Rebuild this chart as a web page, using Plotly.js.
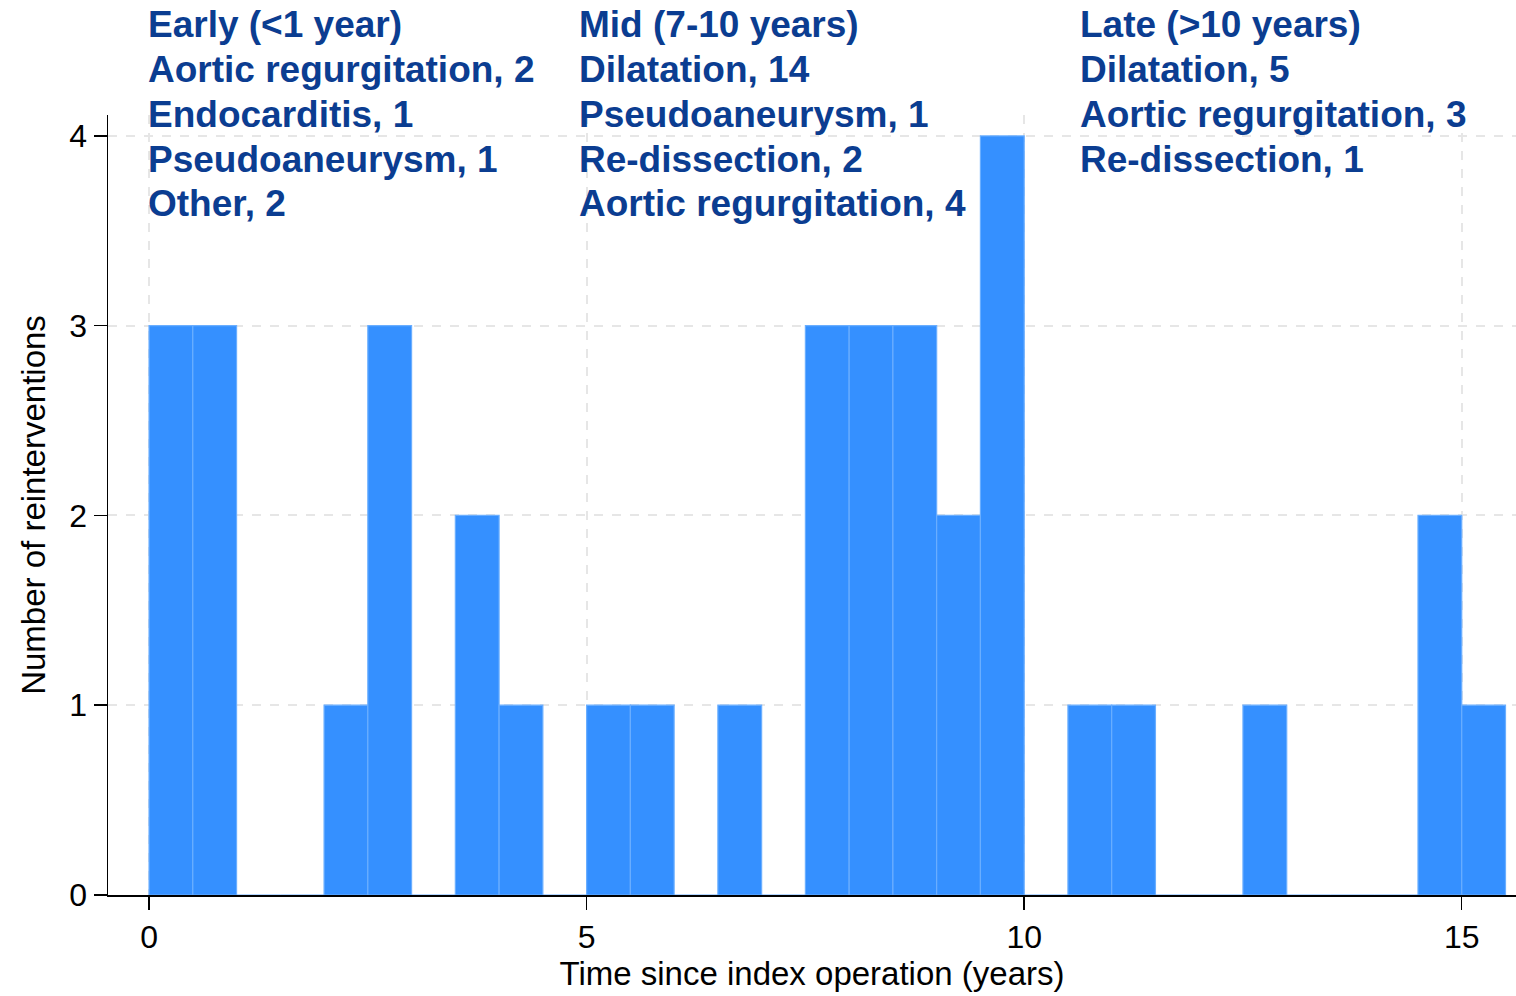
<!DOCTYPE html>
<html><head><meta charset="utf-8">
<script src="https://cdn.plot.ly/plotly-3.0.1.min.js"></script>
<style>html,body{margin:0;padding:0;background:#fff;}#chart{width:1516px;height:996px;}</style>
</head><body><div id="chart"></div>
<script>
// Histogram bins (left edge, years) and counts
const binStart = [0,0.5,1,1.5,2,2.5,3,3.5,4,4.5,5,5.5,6,6.5,7,7.5,8,8.5,9,9.5,10,10.5,11,11.5,12,12.5,13,13.5,14,14.5,15];
const counts   = [3,3,0,0,1,3,0,2,1,0,1,1,0,1,0,3,3,3,2,4,0,1,1,0,0,1,0,0,0,2,1];
const binWidth = 0.5;
const xTicks = [0,5,10,15];
const yTicks = [0,1,2,3,4];

const groupX = [0, 4.93, 10.65];
const groupLines = [
  ["Early (<1 year)","Aortic regurgitation, 2","Endocarditis, 1","Pseudoaneurysm, 1","Other, 2"],
  ["Mid (7-10 years)","Dilatation, 14","Pseudoaneurysm, 1","Re-dissection, 2","Aortic regurgitation, 4"],
  ["Late (>10 years)","Dilatation, 5","Aortic regurgitation, 3","Re-dissection, 1"]
];

const trace = {
  type:'bar', x: binStart, y: counts, width: binWidth, offset: 0,
  marker:{color:'#3590FF', line:{color:'#6aaeff', width:1.2}},
  hoverinfo:'x+y'
};

const annotations = [];
const topPx = 25, stepPx = 44.7, plotTop = 115, plotBottom = 895;
groupLines.forEach((lines, g) => {
  lines.forEach((t, i) => {
    const p = topPx + i*stepPx;
    annotations.push({
      xref:'x', yref:'paper', x: groupX[g], y: (plotBottom - p)/(plotBottom-plotTop),
      xanchor:'left', yanchor:'middle', showarrow:false, align:'left', xshift:-3,
      text: t, font:{family:'Liberation Sans, Arial, sans-serif', size:37, color:'#0b3d91', weight:'bold'}
    });
  });
});

const layout = {
  width:1516, height:996,
  margin:{l:108, r:0, t:115, b:101},
  paper_bgcolor:'#fff', plot_bgcolor:'#fff',
  showlegend:false,
  font:{family:'Liberation Sans, Arial, sans-serif', color:'#000'},
  xaxis:{
    range:[-0.469, 15.62], tickvals:xTicks, ticktext:xTicks.map(String),
    ticks:'outside', ticklen:13, tickwidth:1.5, tickcolor:'#000',
    showline:true, linecolor:'#000', linewidth:1.5,
    showgrid:true, gridcolor:'#e6e6e6', gridwidth:2, griddash:'dash',
    zeroline:false, tickfont:{size:32, color:'#000'},
    title:{text:'Time since index operation (years)', font:{size:33, color:'#000'}, standoff:8}
  },
  yaxis:{
    range:[0, 4.11], tickvals:yTicks, ticktext:yTicks.map(String),
    ticks:'outside', ticklen:13, tickwidth:1.5, tickcolor:'#000',
    showline:true, linecolor:'#000', linewidth:1.5,
    showgrid:true, gridcolor:'#e6e6e6', gridwidth:2, griddash:'dash',
    zeroline:false, tickfont:{size:32, color:'#000'},
    title:{text:'Number of reinterventions', font:{size:33, color:'#000'}, standoff:14}
  },
  annotations: annotations,
  bargap:0
};

Plotly.newPlot('chart',[trace],layout,{displayModeBar:false, staticPlot:true});
</script></body></html>
